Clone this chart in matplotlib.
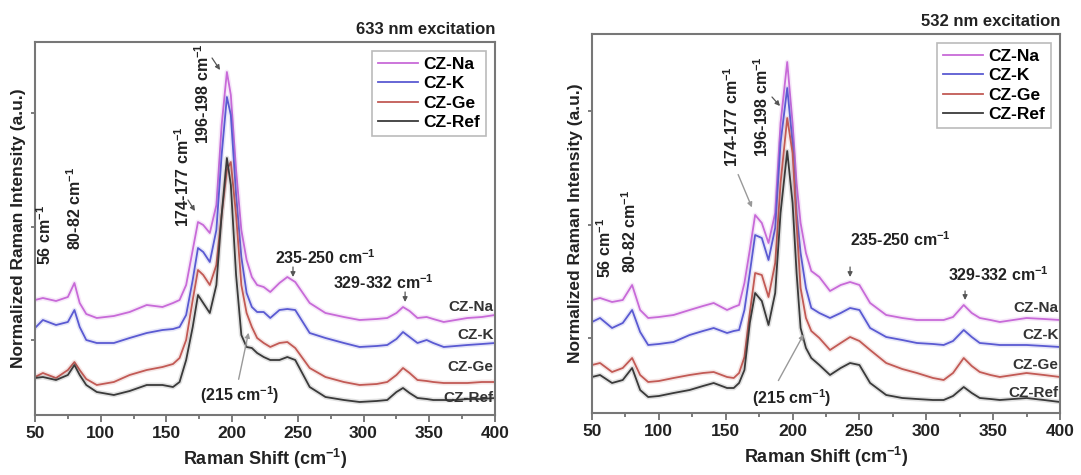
import matplotlib
matplotlib.use('Agg')
import matplotlib.pyplot as plt
from matplotlib.ticker import MultipleLocator

plt.rcParams['font.family'] = ['Liberation Sans', 'DejaVu Sans']
plt.rcParams['font.weight'] = 'bold'
plt.rcParams['mathtext.fontset'] = 'custom'
plt.rcParams['mathtext.bf'] = 'Liberation Sans:bold'
plt.rcParams['mathtext.rm'] = 'Liberation Sans:bold'
plt.rcParams['mathtext.default'] = 'bf'

samples = ['CZ-Na', 'CZ-K', 'CZ-Ge', 'CZ-Ref']
colors = ['#c86ad8', '#5a5ad2', '#c25a55', '#3a3a3a']

# 633 nm excitation (offset, normalized intensity, a.u.)
shift_633 = [50, 56, 66, 75, 80, 84, 89, 97, 110, 122, 135, 147, 155, 160, 165, 170, 174, 178,
             183, 188, 192, 196, 199, 203, 207, 211, 215, 219, 224, 229, 236, 242, 248, 259,
             271, 285, 297, 310, 318, 325, 330, 335, 341, 348, 353, 361, 370, 379, 390, 400]
na_633 = [115, 117, 114, 118, 132, 112, 101, 97, 99, 103, 110, 108, 112, 115, 130, 165, 193, 190,
          182, 210, 290, 343, 320, 245, 185, 155, 138, 130, 128, 123, 132, 138, 133, 112,
          102, 98, 95, 96, 97, 102, 108, 104, 97, 98, 96, 93, 95, 97, 98, 100]
k_633 = [87, 95, 90, 93, 105, 88, 75, 72, 72, 77, 82, 85, 86, 88, 100, 135, 167, 163,
         153, 185, 260, 318, 300, 220, 158, 122, 108, 103, 103, 97, 105, 106, 105, 82,
         77, 72, 68, 69, 70, 76, 83, 78, 72, 75, 72, 68, 69, 70, 71, 72]
ge_633 = [38, 42, 37, 45, 53, 45, 36, 30, 33, 40, 45, 48, 51, 57, 75, 115, 145, 140,
          130, 150, 200, 245, 253, 200, 130, 102, 88, 77, 72, 68, 72, 73, 67, 47,
          38, 33, 30, 31, 33, 40, 47, 42, 35, 34, 33, 32, 32, 32, 33, 33]
ref_633 = [37, 38, 35, 40, 50, 40, 30, 23, 20, 24, 30, 30, 28, 33, 55, 88, 120, 112,
           102, 130, 200, 257, 230, 140, 80, 68, 67, 62, 58, 55, 55, 58, 55, 28,
           18, 15, 13, 14, 15, 23, 27, 22, 17, 16, 15, 15, 15, 16, 16, 17]

# 532 nm excitation
shift_532 = [50, 56, 65, 73, 80, 86, 92, 100, 111, 123, 133, 141, 151, 156, 160, 164, 168, 172,
             177, 182, 187, 191, 196, 200, 203, 206, 210, 214, 220, 228, 236, 243, 250, 258,
             270, 282, 293, 305, 313, 320, 328, 334, 340, 348, 355, 365, 375, 388, 400]
na_532 = [113, 115, 111, 113, 128, 103, 95, 96, 98, 103, 107, 110, 103, 106, 108, 130, 163, 198,
          190, 170, 200, 290, 351, 290, 230, 190, 160, 142, 136, 122, 128, 131, 128, 110,
          98, 95, 93, 93, 93, 96, 108, 100, 95, 93, 91, 93, 95, 94, 93]
k_532 = [91, 95, 85, 90, 103, 81, 68, 69, 71, 78, 82, 85, 80, 82, 83, 103, 140, 178,
         175, 153, 185, 270, 325, 270, 200, 160, 125, 105, 100, 95, 100, 105, 103, 85,
         76, 73, 70, 69, 68, 72, 83, 76, 70, 69, 68, 68, 68, 67, 66]
ge_532 = [48, 50, 41, 45, 55, 38, 31, 32, 35, 38, 40, 41, 36, 35, 40, 56, 100, 140,
          138, 116, 150, 230, 295, 260, 190, 125, 95, 82, 75, 63, 70, 76, 72, 63,
          50, 44, 40, 35, 33, 40, 55, 47, 41, 38, 36, 38, 40, 38, 36]
ref_532 = [36, 38, 30, 33, 45, 23, 16, 17, 20, 23, 27, 30, 25, 25, 30, 43, 90, 120,
           112, 88, 120, 200, 262, 210, 140, 85, 65, 55, 48, 38, 45, 50, 48, 30,
           18, 15, 14, 13, 13, 17, 26, 20, 15, 14, 13, 14, 15, 13, 11]

end_labels_633 = [108, 80, 48, 17]
end_labels_532 = [105, 78, 48, 20]

fig = plt.figure(figsize=(10.81, 4.75), dpi=100)
ax1 = fig.add_axes([35 / 1081, 60 / 475, 460 / 1081, 373 / 475])
ax2 = fig.add_axes([592 / 1081, 62 / 475, 468 / 1081, 379 / 475])

panels = [
    (ax1, shift_633, [na_633, k_633, ge_633, ref_633], 373, end_labels_633, '633 nm excitation'),
    (ax2, shift_532, [na_532, k_532, ge_532, ref_532], 379, end_labels_532, '532 nm excitation'),
]

for ax, shift, series, ytop, end_y, title in panels:
    for name, col, vals in zip(samples, colors, series):
        ax.plot(shift, vals, color=col, lw=3.5, alpha=0.15, solid_capstyle='round')
        ax.plot(shift, vals, color=col, lw=1.3, label=name)
    ax.set_xlim(50, 400)
    ax.set_ylim(0, ytop)
    ax.xaxis.set_major_locator(MultipleLocator(50))
    ax.xaxis.set_minor_locator(MultipleLocator(25))
    ax.set_yticks([75, 188, 302])
    ax.set_yticklabels([])
    ax.tick_params(axis='both', which='both', direction='out', color='#666666', width=1.2)
    ax.tick_params(axis='x', which='major', length=5, labelsize=12.5, pad=3, labelcolor='#222222')
    ax.tick_params(axis='x', which='minor', length=3)
    ax.tick_params(axis='y', length=3)
    for s in ax.spines.values():
        s.set_color('#777777')
        s.set_linewidth(1.5)
    ax.set_xlabel(r'Raman Shift (cm$^{-1}$)', fontsize=13, fontweight='bold', labelpad=4, color='#222222')
    ax.set_ylabel('Normalized Raman Intensity (a.u.)', fontsize=12.5, fontweight='bold', labelpad=0,
                  color='#222222')
    ax.set_title(title, loc='right', fontsize=12, fontweight='bold', pad=6, color='#222222')
    leg = ax.legend(loc='upper right', fontsize=12.5, handlelength=2.3, handletextpad=0.3,
                    labelspacing=0.25, borderpad=0.35, borderaxespad=0.5, fancybox=False)
    leg.get_frame().set_edgecolor('#aaaaaa')
    leg.get_frame().set_linewidth(1.2)
    for name, y in zip(samples, end_y):
        ax.text(399, y, name, ha='right', va='center', fontsize=11, fontweight='bold', color='#333333')

ann = dict(fontsize=11.5, fontweight='bold', color='#222222')
arrow = dict(arrowstyle='-|>', color='#555555', lw=0.9, mutation_scale=7, shrinkA=0, shrinkB=0)
long_arrow = dict(arrowstyle='-|>', color='#999999', lw=1.0, mutation_scale=7)

# 633 nm annotations
ax1.text(57.6, 150, r'56 cm$^{-1}$', rotation=90, ha='center', va='bottom', **ann)
ax1.text(80.4, 165, r'80-82 cm$^{-1}$', rotation=90, ha='center', va='bottom', **ann)
ax1.text(162, 188, r'174-177 cm$^{-1}$', rotation=90, ha='center', va='bottom', **ann)
ax1.annotate('', xy=(171.7, 204), xytext=(166.4, 215), arrowprops=arrow)
ax1.text(177.9, 372, r'196-198 cm$^{-1}$', rotation=90, ha='center', va='top', **ann)
ax1.annotate('', xy=(190.8, 345), xytext=(184.7, 357), arrowprops=arrow)
ax1.text(270.7, 157, r'235-250 cm$^{-1}$', ha='center', va='center', **ann)
ax1.annotate('', xy=(246.3, 138), xytext=(246.3, 148), arrowprops=arrow)
ax1.text(314.8, 132, r'329-332 cm$^{-1}$', ha='center', va='center', **ann)
ax1.annotate('', xy=(331.6, 113), xytext=(331.6, 123), arrowprops=arrow)
ax1.text(206, 20, r'(215 cm$^{-1}$)', ha='center', va='center', **ann)
ax1.annotate('', xy=(212.9, 85), xytext=(204.5, 33), arrowprops=long_arrow)

# 532 nm annotations
ax2.text(59.7, 135, r'56 cm$^{-1}$', rotation=90, ha='center', va='bottom', **ann)
ax2.text(78.4, 140, r'80-82 cm$^{-1}$', rotation=90, ha='center', va='bottom', **ann)
ax2.text(154.7, 246, r'174-177 cm$^{-1}$', rotation=90, ha='center', va='bottom', **ann)
ax2.annotate('', xy=(170.4, 203), xytext=(158.5, 241), arrowprops=long_arrow)
ax2.text(177.2, 256, r'196-198 cm$^{-1}$', rotation=90, ha='center', va='bottom', **ann)
ax2.annotate('', xy=(190.6, 307), xytext=(184.6, 316), arrowprops=arrow)
ax2.text(280.4, 173, r'235-250 cm$^{-1}$', ha='center', va='center', **ann)
ax2.annotate('', xy=(243, 136), xytext=(243, 146), arrowprops=arrow)
ax2.text(353.7, 138, r'329-332 cm$^{-1}$', ha='center', va='center', **ann)
ax2.annotate('', xy=(329, 113), xytext=(329, 122), arrowprops=arrow)
ax2.text(199.6, 15, r'(215 cm$^{-1}$)', ha='center', va='center', **ann)
ax2.annotate('', xy=(209.3, 81), xytext=(188.4, 30), arrowprops=long_arrow)

fig.savefig('out.png', dpi=100)
